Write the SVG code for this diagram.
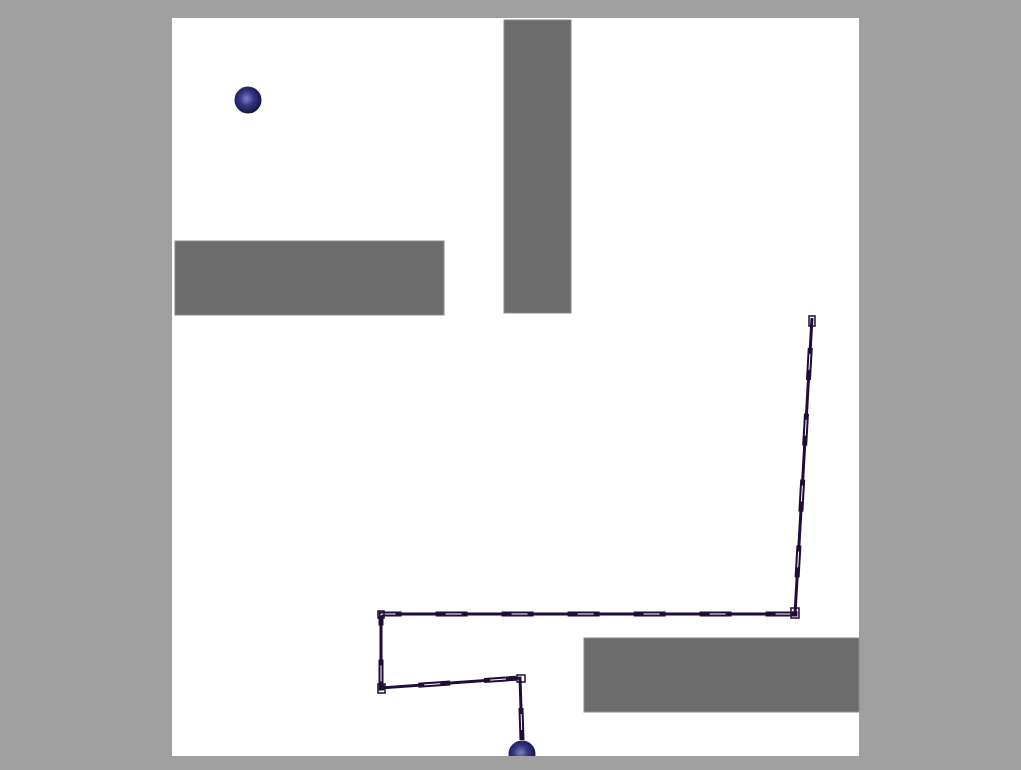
<svg xmlns="http://www.w3.org/2000/svg" width="1021" height="770" viewBox="0 0 1021 770">
  <defs>
    <radialGradient id="ballGrad" cx="0.45" cy="0.45" r="0.6">
      <stop offset="0" stop-color="#8080c8"/>
      <stop offset="0.45" stop-color="#343484"/>
      <stop offset="1" stop-color="#121238"/>
    </radialGradient>
    <style>
      .obst { fill: #6c6c6c; stroke: #8a8a8a; stroke-width: 1; }
      .path { fill: none; stroke: #200c38; stroke-width: 3; stroke-linejoin: miter; }
      .seg { fill: none; stroke: #200c38; stroke-width: 5; stroke-dasharray: 32 34; }
      .tick { fill: none; stroke: #ffffff; stroke-width: 1; stroke-dasharray: 0 10 16 40; }
      .ball { fill: url(#ballGrad); }
      .joint { fill: none; stroke: #200c38; stroke-width: 1.5; }
    </style>
    <clipPath id="field"><rect x="172" y="18" width="687" height="738"/></clipPath>
  </defs>
  <rect x="0" y="0" width="1021" height="770" fill="#a0a0a0"/>
  <rect x="172" y="18" width="687" height="738" fill="#ffffff"/>
  <g id="obstacle-top"><rect class="obst" x="504" y="20" width="67" height="293"/></g>
  <g id="obstacle-left"><rect class="obst" x="175" y="241" width="269" height="74"/></g>
  <g id="obstacle-bottom"><rect class="obst" x="584" y="638" width="275" height="74"/></g>
  <g id="connectors" clip-path="url(#field)">
    <polyline class="path" points="522,740 520,678 381,688 381,614 795,614 812,318"/>
    <polyline class="seg" points="522,740 520,678 381,688 381,614 795,614 812,318"/>
    <polyline class="tick" points="522,740 520,678 381,688 381,614 795,614 812,318"/>
    <rect class="joint" x="517" y="675" width="8" height="7"/>
    <rect class="joint" x="378" y="684" width="7" height="9"/>
    <rect class="joint" x="378" y="611" width="6" height="7"/>
    <rect class="joint" x="791" y="608" width="8" height="10"/>
    <rect class="joint" x="809" y="316" width="6" height="10"/>
  </g>
  <g id="ball-goal"><circle class="ball" cx="248" cy="100" r="13.5"/></g>
  <g id="ball-robot" clip-path="url(#field)"><circle class="ball" cx="522" cy="754" r="13.5"/></g>
</svg>
